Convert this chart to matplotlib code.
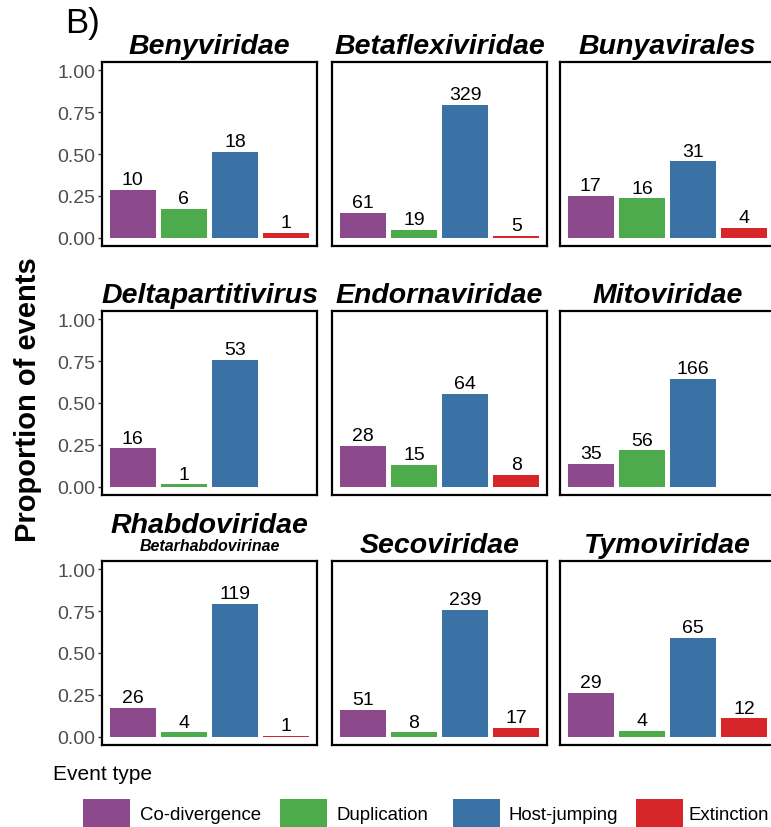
import matplotlib
matplotlib.use("Agg")
import matplotlib.pyplot as plt
from matplotlib.patches import Rectangle
import numpy as np

plt.rcParams['font.family'] = ['Liberation Sans', 'DejaVu Sans']

# ---------------- data ----------------
event_types = ["Co-divergence", "Duplication", "Host-jumping", "Extinction"]
colors = ["#8C4A8D", "#4DAB4B", "#3A72A6", "#D7262A"]

taxa = ["Benyviridae", "Betaflexiviridae", "Bunyavirales",
        "Deltapartitivirus", "Endornaviridae", "Mitoviridae",
        "Rhabdoviridae", "Secoviridae", "Tymoviridae"]
subtitles = {"Rhabdoviridae": "Betarhabdovirinae"}

benyviridae = [10, 6, 18, 1]
betaflexiviridae = [61, 19, 329, 5]
bunyavirales = [17, 16, 31, 4]
deltapartitivirus = [16, 1, 53, None]
endornaviridae = [28, 15, 64, 8]
mitoviridae = [35, 56, 166, None]
rhabdoviridae = [26, 4, 119, 1]
secoviridae = [51, 8, 239, 17]
tymoviridae = [29, 4, 65, 12]
counts = [benyviridae, betaflexiviridae, bunyavirales,
          deltapartitivirus, endornaviridae, mitoviridae,
          rhabdoviridae, secoviridae, tymoviridae]

yticks = [0.0, 0.25, 0.50, 0.75, 1.00]
ytick_labels = ["0.00", "0.25", "0.50", "0.75", "1.00"]

# ---------------- figure ----------------
W, H = 771, 828
fig = plt.figure(figsize=(W / 100, H / 100), dpi=100)

def fx(x):
    return x / W

def fy(y):
    return 1 - y / H

col_left = [102, 332, 560]
row_top = [63, 312, 562]
pw, ph = 215, 184

for idx, (name, vals) in enumerate(zip(taxa, counts)):
    r, c = divmod(idx, 3)
    ax = fig.add_axes([fx(col_left[c]), fy(row_top[r] + ph), pw / W, ph / H])
    total = sum(v for v in vals if v is not None)
    xs = np.arange(1, 5)
    for x, v, col in zip(xs, vals, colors):
        if v is None:
            continue
        p = v / total
        ax.bar(x, p, width=0.9, color=col, edgecolor='none')
        ax.text(x, p + 0.01, str(v), ha='center', va='bottom',
                fontsize=14, color='black')
    ax.set_xlim(0.4, 4.6)
    ax.set_ylim(-0.05, 1.05)
    ax.set_xticks([])
    for s in ax.spines.values():
        s.set_linewidth(1.6)
        s.set_color('black')
    if c == 0:
        ax.set_yticks(yticks)
        ax.set_yticklabels(ytick_labels, fontsize=14, color='#4D4D4D')
        ax.tick_params(axis='y', length=3, width=1, color='#333333', pad=1.5)
    else:
        ax.set_yticks([])
    if name in subtitles:
        ax.text(0.5, 1 + 29 / ph, name, transform=ax.transAxes, ha='center',
                va='baseline', fontsize=20.5, fontweight='bold', fontstyle='italic')
        ax.text(0.5, 1 + 11 / ph, subtitles[name], transform=ax.transAxes,
                ha='center', va='baseline', fontsize=11.5, fontweight='bold',
                fontstyle='italic')
    else:
        ax.text(0.5, 1 + 9 / ph, name, transform=ax.transAxes, ha='center',
                va='baseline', fontsize=20.5, fontweight='bold', fontstyle='italic')

# y label
fig.text(fx(28), fy(400), "Proportion of events", rotation=90, ha='center',
         va='center', fontsize=21, fontweight='bold')

# panel tag
fig.text(fx(65), fy(23), "B)", ha='left', va='center', fontsize=25)

# legend
fig.text(fx(53), fy(780), "Event type", ha='left', va='baseline', fontsize=15)
key_x = [83, 280, 453, 636]
text_x = [140, 337, 508, 688]
for kx, tx, lab, col in zip(key_x, text_x, event_types, colors):
    fig.add_artist(Rectangle((fx(kx), fy(830)), 47 / W, 30 / H,
                             transform=fig.transFigure, facecolor=col,
                             edgecolor='none'))
    fig.text(fx(tx), fy(816), lab, ha='left', va='center', fontsize=13.4)

fig.savefig("out.png", dpi=100)
